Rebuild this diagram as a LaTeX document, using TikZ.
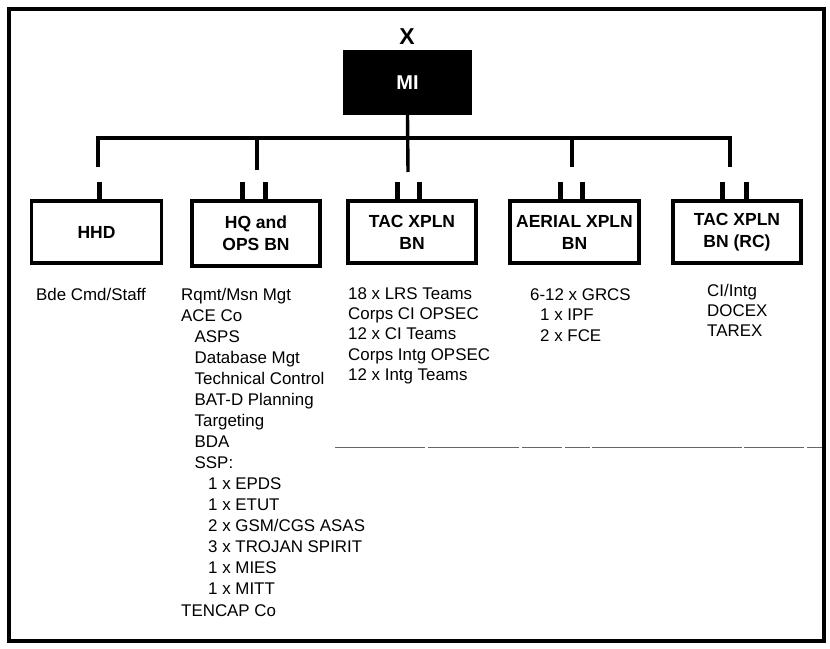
\documentclass[tikz,border=0pt]{standalone}
\usepackage{fontspec}
\setmainfont{Liberation Sans}
\begin{document}
\begin{tikzpicture}[x=1pt,y=-1pt,
  frame/.style={line width=4pt},
  unitbox/.style={draw,line width=3.6pt,minimum width=130pt,minimum height=62pt,inner sep=0pt,align=center,font=\fontsize{17.5}{22}\selectfont\bfseries},
  bus/.style={line width=3.4pt},
  stub/.style={line width=5pt},
  item/.style={anchor=base west,inner sep=0pt,font=\fontsize{16.9}{21}\selectfont},
  scanline/.style={line width=1pt,color=black!60,dash pattern=on 90pt off 3pt on 91pt off 3pt on 40pt off 3pt on 25pt off 2pt on 150pt off 2pt on 60pt off 3pt}
]
\useasboundingbox (0,0) rectangle (830,648);
\draw[frame] (9,9) rectangle (824,641);

% top unit
\node[font=\fontsize{23}{26}\selectfont\bfseries,inner sep=0pt] (xmark) at (407,37) {X};
\node[fill=black,minimum width=129pt,minimum height=65pt,inner sep=0pt,text=white,font=\fontsize{20}{24}\selectfont\bfseries] (mi) at (407.5,82.5) {MI};

% subordinate units
\node[unitbox] (hhd) at (96.5,232) {HHD};
\node[unitbox,minimum width=128pt,minimum height=65pt] (hq) at (256,233.5) {HQ and\\OPS BN};
\node[unitbox,minimum width=128pt] (tac) at (412,232) {TAC XPLN\\BN};
\node[unitbox,minimum width=129pt] (aer) at (574.5,232) {AERIAL XPLN\\BN};
\node[unitbox,minimum width=128pt] (rc) at (737,232) {TAC XPLN\\BN (RC)};

% bus
\coordinate (bus) at (408,138);
\coordinate (d1) at (98,167);
\coordinate (d2) at (257,170);
\coordinate (d3) at (408,172);
\coordinate (d4) at (572,167);
\coordinate (d5) at (730,167);
\draw[bus] (mi.south) -- (d3);
\draw[bus] (d1) -- (d1 |- bus) -- (d5 |- bus) -- (d5);
\draw[bus] (d2 |- bus) -- (d2);
\draw[bus] (d4 |- bus) -- (d4);

% stubs
\draw[stub] ([xshift=2.5pt]hhd.north) -- ++(0,-17);
\draw[stub] ([xshift=-14pt]hq.north) -- ++(0,-17);
\draw[stub] ([xshift=9pt]hq.north) -- ++(0,-17);
\draw[stub] ([xshift=-15pt]tac.north) -- ++(0,-17);
\draw[stub] ([xshift=7pt]tac.north) -- ++(0,-17);
\draw[stub] ([xshift=-14.5pt]aer.north) -- ++(0,-17);
\draw[stub] ([xshift=7.5pt]aer.north) -- ++(0,-17);
\draw[stub] ([xshift=-15pt]rc.north) -- ++(0,-17);
\draw[stub] ([xshift=9pt]rc.north) -- ++(0,-17);

% lists
\node[item] (bde) at (36,300) {Bde Cmd/Staff};

\foreach \ind/\t [count=\i] in {0/{Rqmt/Msn Mgt},0/{ACE Co},1/{ASPS},1/{Database Mgt},1/{Technical Control},1/{BAT-D Planning},1/{Targeting},1/{BDA},1/{SSP:},2/{1 x EPDS},2/{1 x ETUT},2/{2 x GSM/CGS ASAS},2/{3 x TROJAN SPIRIT},2/{1 x MIES},2/{1 x MITT},0/{TENCAP Co}}
  \node[item] (hql\i) at ({181+13.5*\ind},{300+21.07*(\i-1)}) {\t};

\foreach \t [count=\i] in {{18 x LRS Teams},{Corps CI OPSEC},{12 x CI Teams},{Corps Intg OPSEC},{12 x Intg Teams}}
  \node[item] (tacl\i) at (348,{299+20.4*(\i-1)}) {\t};

\node[item] (aerl1) at (530,300) {6-12 x GRCS};
\node[item] (aerl2) at (540,320.5) {1 x IPF};
\node[item] (aerl3) at (540,341) {2 x FCE};

\foreach \t [count=\i] in {{CI/Intg},{DOCEX},{TAREX}}
  \node[item] (rcl\i) at (707,{296+20*(\i-1)}) {\t};

% faint scan line
\draw[scanline] (335,447) -- (822,447);
\end{tikzpicture}
\end{document}
